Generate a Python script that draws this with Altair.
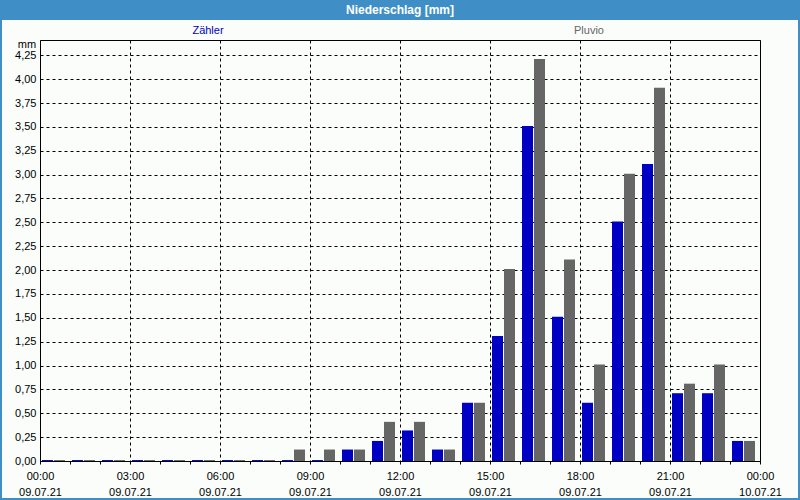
import altair as alt
import pandas as pd

# ---- data ----
hours = list(range(24))
zaehler = [0.01, 0.01, 0.01, 0.01, 0.01, 0.01, 0.01, 0.01,
           0.01, 0.01, 0.12, 0.21, 0.32, 0.12, 0.61, 1.31,
           3.51, 1.51, 0.61, 2.51, 3.11, 0.71, 0.71, 0.21]
pluvio = [0.01, 0.01, 0.01, 0.01, 0.01, 0.01, 0.01, 0.01,
          0.12, 0.12, 0.12, 0.41, 0.41, 0.12, 0.61, 2.01,
          4.21, 2.11, 1.01, 3.01, 3.91, 0.81, 1.01, 0.21]
series_names = ["Zähler", "Pluvio"]
series_colors = ["#0000C4", "#666666"]
title_text = ["Niederschlag [mm]"]
unit_text = ["mm"]
y_ticks = [0, 0.25, 0.5, 0.75, 1.0, 1.25, 1.5, 1.75, 2.0, 2.25,
           2.5, 2.75, 3.0, 3.25, 3.5, 3.75, 4.0, 4.25]
x_ticks = list(range(25))

rows = []
for h, a, b in zip(hours, zaehler, pluvio):
    rows.append({"hour": h, "value": a, "series": series_names[0], "k": 0})
    rows.append({"hour": h, "value": b, "series": series_names[1], "k": 1})
df = pd.DataFrame(rows)

W, H = 720, 421
FONT = "Liberation Sans"
FRAME = "#3F8FC6"
BG = "#FAFDFA"

x_scale = alt.Scale(domain=[0, 24], nice=False, zero=False)
y_scale = alt.Scale(domain=[0, 4.41], nice=False)

x_label_expr = (
    "datum.value % 3 == 0 ? ["
    "(datum.value == 24 ? '00' : (datum.value < 10 ? '0' + datum.value : '' + datum.value)) + ':00', "
    "datum.value == 24 ? '10.07.21' : '09.07.21'] : ''"
)

bars = alt.Chart(df).transform_calculate(
    x0="datum.hour + (datum.k == 0 ? 2/30 : 14/30)",
    x1="datum.hour + (datum.k == 0 ? 13/30 : 25/30)",
).mark_rect().encode(
    x=alt.X("x0:Q", scale=x_scale, title=None,
            axis=alt.Axis(values=x_ticks, labelExpr=x_label_expr, labelOverlap=False,
                          labelFlush=False, tickSize=3, tickColor="black", domain=False,
                          grid=True, gridColor="black", gridDash=[3, 3],
                          gridOpacity={"condition": {"test": "datum.value % 3 == 0", "value": 1}, "value": 0},
                          labelLineHeight=16, labelPadding=6, labelBaseline="top",
                          labelFont=FONT, labelFontSize=11, labelColor="black")),
    x2="x1:Q",
    y=alt.Y("value:Q", scale=y_scale, title=None,
            axis=alt.Axis(values=y_ticks, labelExpr="replace(format(datum.value, '.2f'), '.', ',')",
                          tickSize=0, domain=False, grid=True, gridColor="black", gridDash=[3, 3],
                          labelPadding=4, labelFont=FONT, labelFontSize=11, labelColor="black",
                          labelOverlap=False, labelFlush=False)),
    y2=alt.datum(0),
    color=alt.Color("series:N", scale=alt.Scale(domain=series_names, range=series_colors), legend=None),
)

one = pd.DataFrame({"t": title_text})
title_bar = alt.Chart(one).mark_rect(color=FRAME).encode(
    x=alt.value(-40), x2=alt.value(760), y=alt.value(-40), y2=alt.value(-20))
left_border = alt.Chart(one).mark_rect(color=FRAME).encode(
    x=alt.value(-40), x2=alt.value(-38), y=alt.value(-40), y2=alt.value(460))
right_border = alt.Chart(one).mark_rect(color=FRAME).encode(
    x=alt.value(758), x2=alt.value(760), y=alt.value(-40), y2=alt.value(460))
bottom_border = alt.Chart(one).mark_rect(color=FRAME).encode(
    x=alt.value(-40), x2=alt.value(760), y=alt.value(458), y2=alt.value(460))

title_mark = alt.Chart(one).mark_text(font=FONT, fontSize=12, fontWeight="bold", color="white",
                                      baseline="middle", align="center").encode(
    text="t:N", x=alt.value(360), y=alt.value(-30))

leg = pd.DataFrame({"name": series_names, "col": series_colors, "px": [168, 549]})
legend_text = alt.Chart(leg).mark_text(font=FONT, fontSize=11, baseline="middle", align="center").encode(
    text="name:N", x=alt.X("px:Q", scale=None),
    y=alt.value(-9),
    color=alt.Color("col:N", scale=None, legend=None))

unit = alt.Chart(pd.DataFrame({"u": unit_text})).mark_text(font=FONT, fontSize=11, baseline="middle",
                                                           align="center", color="black").encode(
    text="u:N", x=alt.value(-13), y=alt.value(5))

chart = alt.layer(bars, title_bar, left_border, right_border, bottom_border,
                  title_mark, legend_text, unit).properties(
    width=W, height=H, autosize="none",
    padding={"left": 40, "top": 40, "right": 40, "bottom": 39},
    background=BG,
).configure_view(stroke="black", strokeWidth=1, fill=BG)

chart.save("out.html", embed_options={"renderer": "svg", "actions": False})
